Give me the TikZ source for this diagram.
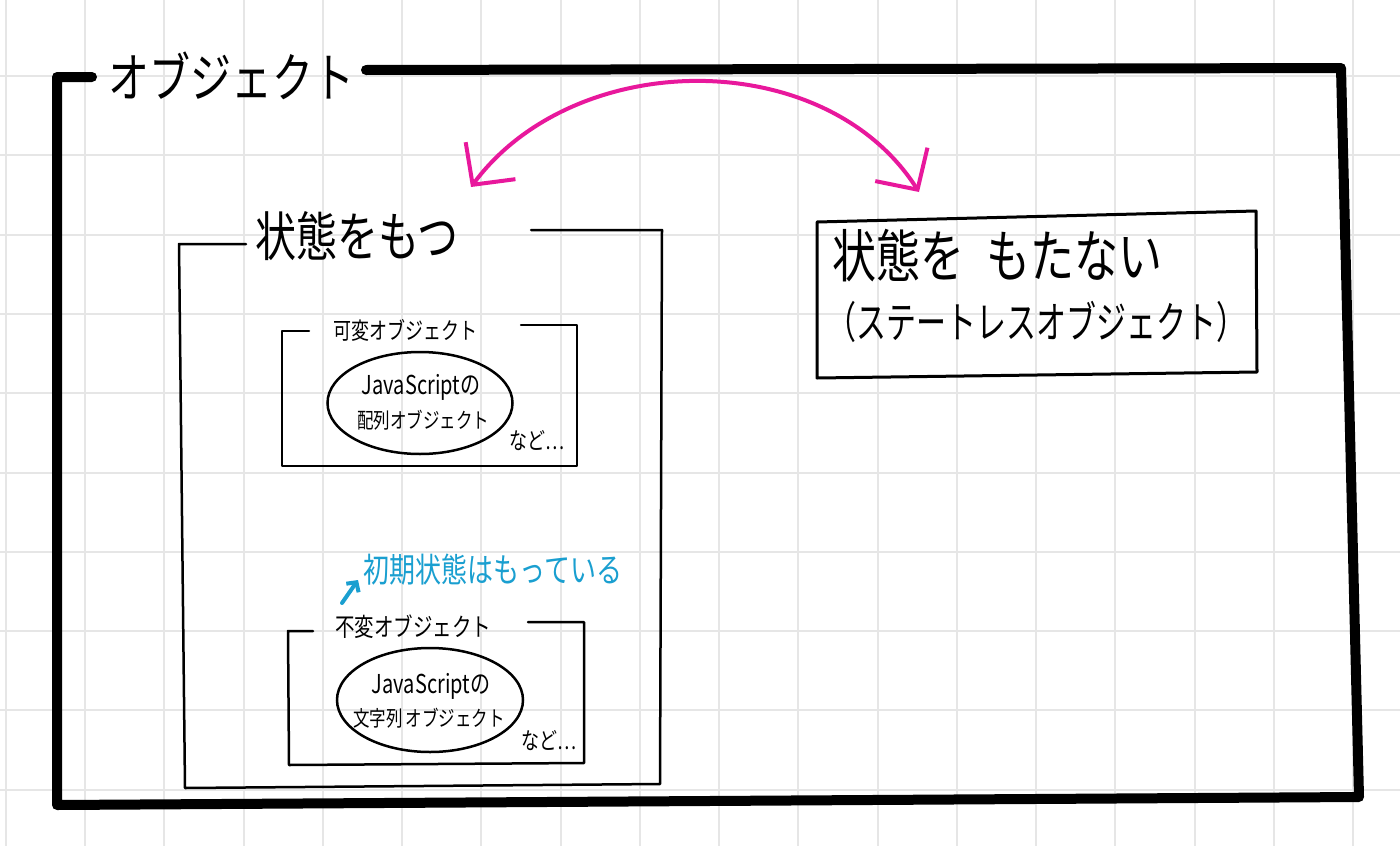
\documentclass[tikz,border=0pt]{standalone}
\usepackage{fontspec}
\usepackage{graphicx}
\setmainfont{Noto Sans CJK JP}
\usetikzlibrary{arrows.meta,shapes.geometric}
\definecolor{gridgray}{HTML}{E6E6E6}
\definecolor{pink}{HTML}{E8189C}
\definecolor{sky}{HTML}{1A9FD0}
\newcommand{\fs}[1]{\fontsize{#1}{#1}\selectfont}
\newcommand{\tall}[1]{\scalebox{1}[1.3]{#1}}
\tikzset{
  gridline/.style={gridgray, line width=2pt},
  outerframe/.style={black, line width=10pt, line cap=round, line join=round},
  boxline/.style={black, line width=2.5pt, line cap=round, line join=round},
  ell/.style={draw, ellipse, line width=2.5pt, inner sep=0pt},
  lbl/.style={inner sep=0pt, text=black},
}
\begin{document}
\begin{tikzpicture}[x=1pt, y=-1pt]
\useasboundingbox (0,0) rectangle (1400,846);
\fill[white] (0,0) rectangle (1400,846);
% grid
\foreach \i in {0,...,17} {
  \draw[gridline] ({5.75+79.25*\i},0) -- ({5.75+79.25*\i},846);
}
\foreach \j in {1,...,10} {
  \draw[gridline] (0,{-3.3+79.3*\j}) -- (1400,{-3.3+79.3*\j});
}
% outer frame
\node[lbl] (title) at (231,76) {\tall{\fs{41}オブジェクト}};
\draw[outerframe] (92,77) -- (57,77) -- (57,805) -- (1359,797) -- (1341,68) -- (366,70);

% left box: 状態をもつ
\node[lbl] (has) at (357,236) {\tall{\fs{41}状態をもつ}};
\draw[boxline] (246,244) -- (179,244) -- (185,788) -- (660,784) -- (662,230) -- (531,230);

% inner box 1
\node[lbl] (mut) at (405,330) {\tall{\fs{18}可変オブジェクト}};
\draw[boxline] (309,331) -- (282,331) -- (282,466) -- (577,466) -- (577,325) -- (521,325);
\node[ell, minimum width=185pt, minimum height=102pt] (e1) at (420,403) {};
\node[lbl] (e1a) at (421,387) {\tall{\fs{20}JavaScriptの}};
\node[lbl] (e1b) at (423,420) {\tall{\fs{16.5}配列オブジェクト}};
\node[lbl] (etc1) at (537,441) {\tall{\fs{18}など…}};

% blue note
\node[lbl, text=sky] (note) at (493,570) {\tall{\fs{26}初期状態はもっている}};
\coordinate (ntail) at (342,603);
\coordinate (nhead) at (358,580);
\draw[sky, line width=4pt, line cap=round, -{Straight Barb[length=7pt,width=15pt]}] (ntail) -- (nhead);

% inner box 2
\node[lbl] (imm) at (413,627) {\tall{\fs{19.5}不変オブジェクト}};
\draw[boxline] (313,631) -- (288,631) -- (289,765) -- (584,763) -- (584,622) -- (528,622);
\node[ell, minimum width=186pt, minimum height=104pt] (e2) at (430,700) {};
\node[lbl] (e2a) at (431,686) {\tall{\fs{20}JavaScriptの}};
\node[lbl] (e2b) at (429,718) {\tall{\fs{16.5}文字列\,オブジェクト}};
\node[lbl] (etc2) at (549,741) {\tall{\fs{18}など…}};

% right box
\draw[line width=3pt, line join=round] (817,222) -- (1256,211) -- (1257,372) -- (817,378) -- cycle;
\node[lbl, anchor=west] (none1) at (832,256) {\tall{\fs{44}状態を\hspace{0.5em}もたない}};
\node[lbl, anchor=west] (none2) at (826,322) {\scalebox{1}[1.45]{\fs{30}（ステートレスオブジェクト）}};

% pink double arrow
\coordinate (pl) at (471,187);
\coordinate (pr) at (919,192);
\draw[pink, line width=4pt, line cap=round,
  {Straight Barb[length=30pt,width=62pt]}-{Straight Barb[length=30pt,width=62pt]}]
  (pl) .. controls (575,47) and (825,45) .. (pr);
\end{tikzpicture}
\end{document}
